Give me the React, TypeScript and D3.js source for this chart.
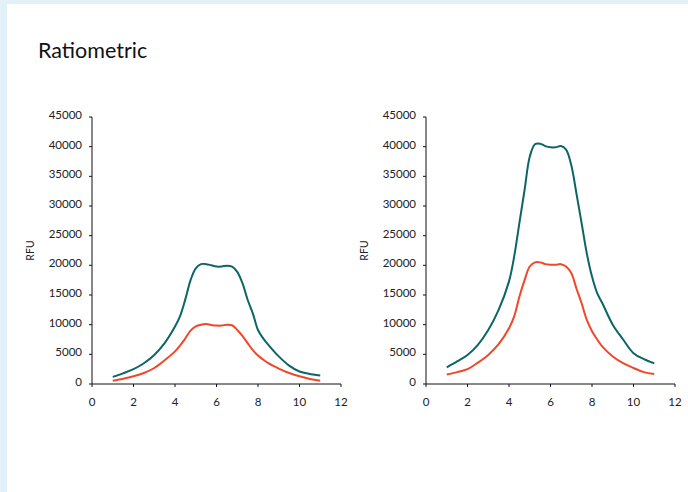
import React from "react";
import * as d3 from "d3";

// x positions (shared by both panels)
const xValues = [1, 1.5, 2, 2.5, 3, 3.5, 4, 4.25, 4.5, 4.75, 5, 5.25, 5.5, 5.75, 6, 6.25, 6.5, 6.75, 7, 7.25, 7.5, 7.75, 8, 8.25, 8.5, 9, 9.5, 10, 10.5, 11];

// left panel
const leftTeal = [1200, 1800, 2500, 3500, 4900, 6900, 9700, 11500, 14300, 17500, 19500, 20200, 20200, 20000, 19800, 19800, 19950, 19800, 18900, 17000, 14200, 11900, 9100, 7700, 6600, 4650, 3100, 2100, 1700, 1450];
const leftRed = [560, 900, 1300, 1850, 2700, 4000, 5500, 6500, 7700, 9000, 9700, 10000, 10100, 9950, 9850, 9850, 10000, 9900, 9100, 8100, 6900, 5700, 4800, 4100, 3500, 2600, 1850, 1300, 850, 560];

// right panel
const rightTeal = [2800, 3800, 4900, 6600, 9100, 12500, 17300, 21500, 27100, 32700, 38300, 40400, 40500, 40100, 39900, 39900, 40100, 39500, 36900, 32100, 27100, 22000, 18100, 15300, 13600, 10000, 7500, 5200, 4200, 3500];
const rightRed = [1600, 2000, 2500, 3600, 4900, 6700, 9400, 11400, 14700, 17500, 19800, 20500, 20500, 20200, 20100, 20100, 20200, 19800, 18700, 16100, 13600, 10800, 8900, 7500, 6300, 4650, 3500, 2700, 2000, 1700];

const yTicks = [0, 5000, 10000, 15000, 20000, 25000, 30000, 35000, 40000, 45000];
const xTicks = [0, 2, 4, 6, 8, 10, 12];

const TEAL = "#0c6566";
const RED = "#f0472a";
const FONT = "Lato, 'Open Sans', sans-serif";

interface PanelProps {
  left: number;
  teal: number[];
  red: number[];
}

const Panel: React.FC<PanelProps> = ({ left, teal, red }) => {
  const top = 117;
  const bottom = 384;
  const width = 249;
  const x = d3.scaleLinear().domain([0, 12]).range([left, left + width]);
  const y = d3.scaleLinear().domain([0, 45000]).range([bottom, top]);
  const line = d3
    .line<number>()
    .x((_, i) => x(xValues[i]))
    .y((d) => y(d))
    .curve(d3.curveCatmullRom.alpha(0.5));

  return (
    <g fontFamily={FONT} fontSize={11.5} fill="#222">
      <line x1={left} x2={left} y1={top} y2={bottom} stroke="#111" strokeWidth={1} />
      <line x1={left} x2={left + width} y1={bottom} y2={bottom} stroke="#111" strokeWidth={1} />
      {yTicks.map((t) => (
        <g key={t}>
          <line x1={left - 3} x2={left} y1={y(t)} y2={y(t)} stroke="#111" />
          <text x={left - 10} y={y(t) + 2} textAnchor="end">
            {t}
          </text>
        </g>
      ))}
      {xTicks.map((t) => (
        <g key={t}>
          <line x1={x(t)} x2={x(t)} y1={bottom} y2={bottom + 3} stroke="#111" />
          <text x={x(t)} y={bottom + 22} textAnchor="middle">
            {t}
          </text>
        </g>
      ))}
      <text transform={`translate(${left - 58},${(top + bottom) / 2}) rotate(-90)`} textAnchor="middle" fontSize={10.5}>
        RFU
      </text>
      <path d={line(teal) ?? ""} fill="none" stroke={TEAL} strokeWidth={2} />
      <path d={line(red) ?? ""} fill="none" stroke={RED} strokeWidth={2} />
    </g>
  );
};

const App: React.FC = () => (
  <>
    <style>{"body{margin:0}"}</style>
    <svg width={688} height={492} style={{ display: "block" }}>
      <rect x={0} y={0} width={688} height={492} fill="#e2f1f8" />
      <rect x={7} y={4} width={681} height={488} fill="#ffffff" />
      <text x={38} y={58} fontFamily={FONT} fontSize={21.5} fill="#111">
        Ratiometric
      </text>
      <Panel left={92} teal={leftTeal} red={leftRed} />
      <Panel left={426} teal={rightTeal} red={rightRed} />
    </svg>
  </>
);

export default App;
